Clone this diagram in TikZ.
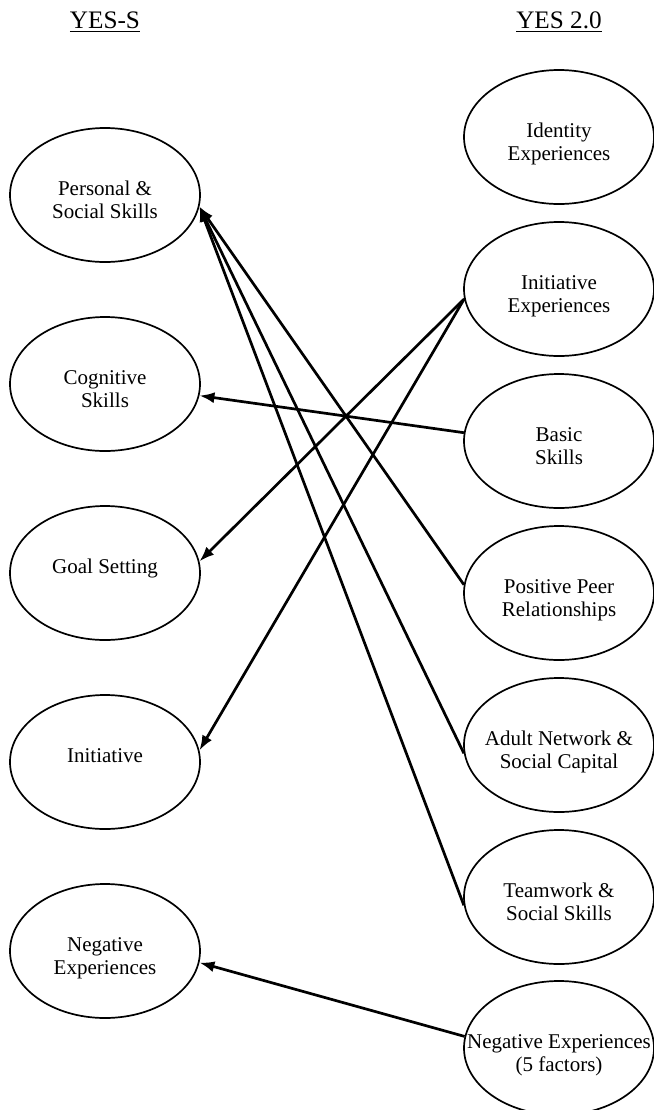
\documentclass[tikz,border=0pt]{standalone}
\usepackage{fontspec}
\setmainfont{Liberation Serif}
\usetikzlibrary{shapes.geometric, arrows.meta}

\begin{document}
\begin{tikzpicture}[
    x=0.5pt, y=-0.5pt,
    factor/.style={ellipse, draw, line width=0.85pt, minimum width=95pt, minimum height=67pt,
        inner xsep=-15pt, inner ysep=0pt, text height=12pt, text depth=12pt, align=center,
        font=\fontsize{10.5}{11.8}\selectfont},
    twoline/.style={text height=24pt, text depth=0.4pt},
    link/.style={draw, line width=1.35pt, -{Latex[length=7.5pt, width=5.5pt]}},
    heading/.style={anchor=base, inner sep=0pt, font=\fontsize{12.6}{14}\selectfont}
]
\useasboundingbox (0,0) rectangle (654,1110);

\node[heading] (yess) at (105,28) {\underline{YES-S}};
\node[heading] (yestwo) at (559,28) {\underline{YES 2.0}};

% YES-S factors
\node[factor, twoline] (pers) at (105,195) {Personal \&\\Social Skills};
\node[factor, twoline] (cog) at (105,384) {Cognitive\\Skills};
\node[factor] (goal) at (105,573) {Goal Setting};
\node[factor] (init) at (105,762) {Initiative};
\node[factor, twoline] (neg) at (105,951) {Negative\\Experiences};

% YES 2.0 factors
\node[factor, twoline] (ident) at (559,137) {Identity\\Experiences};
\node[factor, twoline] (initexp) at (559,289) {Initiative\\Experiences};
\node[factor, twoline] (basic) at (559,441) {Basic\\Skills};
\node[factor, twoline] (peer) at (559,593) {Positive Peer\\Relationships};
\node[factor, twoline] (adult) at (559,745) {Adult Network \&\\Social Capital};
\node[factor, twoline] (team) at (559,897) {Teamwork \&\\Social Skills};
\node[factor, twoline] (negfive) at (559,1048) {Negative Experiences\\(5 factors)};

% links
\draw[link] (peer.175) -- (pers.353);
\draw[link] (adult.185) -- (pers.353);
\draw[link] (team.185) -- (pers.353);
\draw[link] (initexp.186) -- (goal.7);
\draw[link] (initexp.186) -- (init.7);
\draw[link] (basic.175) -- (cog.353);
\draw[link] (negfive.173) -- (neg.353);

\end{tikzpicture}
\end{document}
